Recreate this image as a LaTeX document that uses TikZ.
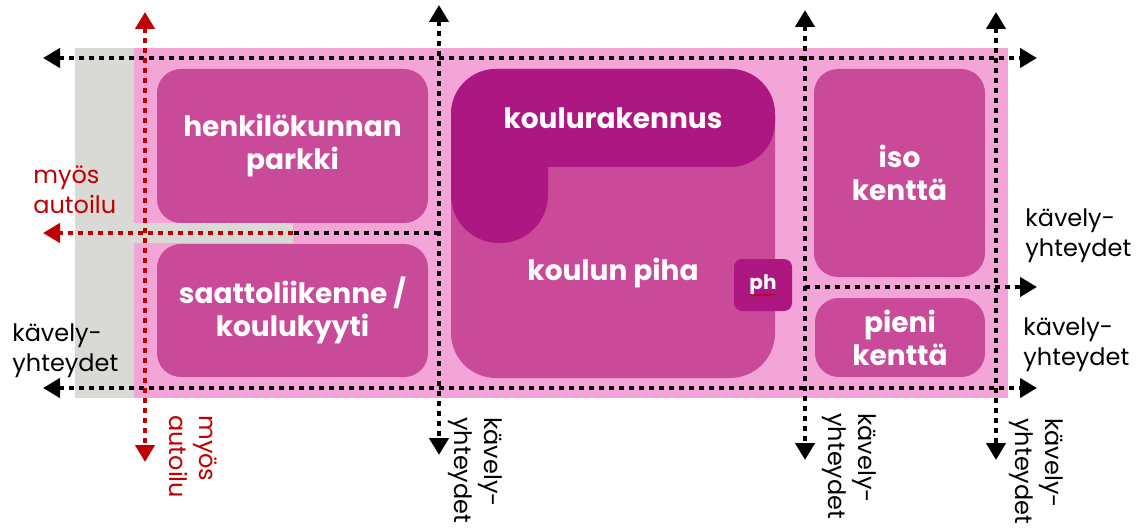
\documentclass[tikz,border=0pt]{standalone}
\usepackage{fontspec}
\setmainfont{Poppins}
\usetikzlibrary{arrows.meta,decorations.pathmorphing}
\definecolor{pinkbg}{RGB}{243,165,216}
\definecolor{midmag}{RGB}{201,74,152}
\definecolor{darkmag}{RGB}{173,23,129}
\definecolor{grayzone}{RGB}{217,217,214}
\definecolor{redline}{RGB}{192,0,0}
\begin{document}
\begin{tikzpicture}[x=0.5pt,y=-0.5pt,
  zone/.style={draw=none, fill=midmag, rounded corners=12pt, text=white,
    font=\bfseries\fontsize{14}{16.5}\selectfont, align=center, inner sep=0pt},
  boldlabel/.style={text=white, font=\bfseries\fontsize{14}{16.5}\selectfont, align=center, inner sep=0pt},
  walklabel/.style={font=\fontsize{12}{15}\selectfont, align=left, inner sep=0pt, anchor=north west},
  carlabel/.style={walklabel, text=redline},
  walk/.style={line width=2.3pt, dash pattern=on 2.4pt off 2.6pt},
  both/.style={walk, {Triangle[length=8.5pt,width=9.5pt]}-{Triangle[length=8.5pt,width=9.5pt]}},
  oneway/.style={walk, -{Triangle[length=8.5pt,width=9.5pt]}}
]
\useasboundingbox (0,0) rectangle (1139,529);
% background areas
\fill[pinkbg] (134,48) rectangle (1008,398);
\fill[grayzone] (75,48) rectangle (134,398);
\fill[grayzone] (134,223) rectangle (293,243);

% zones
\node[zone, minimum width=135.5pt, minimum height=77pt] (parkki) at (292.5,146) {henkilökunnan\\parkki};
\node[zone, minimum width=135.5pt, minimum height=66.5pt] (saatto) at (292.5,310.5) {saattoliikenne /\\koulukyyti};
\node[zone, minimum width=85.5pt, minimum height=104pt] (iso) at (899.5,173) {iso\\kenttä};
\node[zone, minimum width=85pt, minimum height=39.5pt] (pieni) at (900,337.5) {pieni\\kenttä};
\node[zone, rounded corners=22.5pt, minimum width=162pt, minimum height=154.5pt] (piha) at (613,223.5) {};
% koulurakennus (L-shape)
\fill[darkmag, rounded corners=22.5pt] (451,69) rectangle (775,167);
\fill[darkmag, rounded corners=24pt] (451,69) rectangle (548,243);
\node[boldlabel] (rakennus) at (613,118) {koulurakennus};
\node[boldlabel] (pihatext) at (613,273) {koulun piha};
\node[zone, fill=darkmag, rounded corners=4pt, minimum width=29pt, minimum height=26pt,
  font=\bfseries\fontsize{10}{12}\selectfont] (ph) at (763,285) {ph};
\draw[redline, line width=0.4pt, decorate, decoration={snake, amplitude=0.4pt, segment length=1.6pt}]
  ([xshift=-6.5pt,yshift=-5pt]ph.center) -- ([xshift=6.5pt,yshift=-5pt]ph.center);

% connector end points
\coordinate (topL) at (43,58);   \coordinate (topR) at (1037,58);
\coordinate (botL) at (43,388);  \coordinate (botR) at (1037,388);
\coordinate (v1T) at (439,5);    \coordinate (v1B) at (439,455);
\coordinate (v2T) at (805,10);   \coordinate (v2B) at (805,460);
\coordinate (v3T) at (996,12);   \coordinate (v3B) at (996,460);
\coordinate (rvT) at (145,12);   \coordinate (rvB) at (145,462);
\coordinate (midS) at (805,287); \coordinate (midR) at (1037,287);
\coordinate (carS) at (439,233); \coordinate (carM) at (293,233); \coordinate (carL) at (43,233);

% walking connections
\draw[both] (topL) -- (topR);
\draw[both] (botL) -- (botR);
\draw[both] (v1T) -- (v1B);
\draw[both] (v2T) -- (v2B);
\draw[both] (v3T) -- (v3B);
\draw[oneway] (midS) -- (midR);
\draw[walk] (carS) -- (carM);
% car connections
\draw[both, redline] (rvT) -- (rvB);
\draw[oneway, redline] (carM) -- (carL);

% labels
\node[carlabel] (carTxt) at (33,165) {myös\\autoilu};
\node[walklabel] (walkL) at (12,323) {kävely-\\yhteydet};
\node[walklabel] (walkR1) at (1025,208) {kävely-\\yhteydet};
\node[walklabel] (walkR2) at (1023,317) {kävely-\\yhteydet};
\node[carlabel, rotate=-90] (carTxtB) at (218,415) {myös\\autoilu};
\node[walklabel, rotate=-90] (walkB1) at (503,417) {kävely-\\yhteydet};
\node[walklabel, rotate=-90] (walkB2) at (877,413) {kävely-\\yhteydet};
\node[walklabel, rotate=-90] (walkB3) at (1064,418) {kävely-\\yhteydet};
\end{tikzpicture}
\end{document}
